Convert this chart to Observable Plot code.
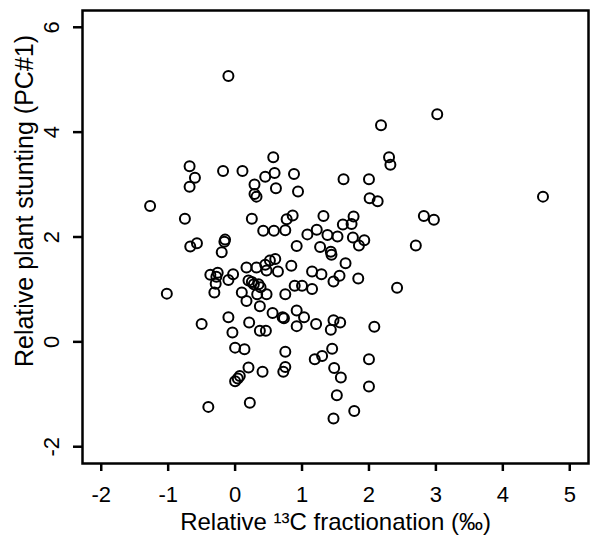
<!DOCTYPE html>
<html>
<head>
<meta charset="utf-8">
<script src="https://cdn.jsdelivr.net/npm/d3@7"></script>
<script src="https://cdn.jsdelivr.net/npm/@observablehq/plot@0.6"></script>
<style>
  html, body { margin: 0; padding: 0; background: white; }
</style>
</head>
<body>
<div id="chart"></div>
<script>
const xTicks = [-2, -1, 0, 1, 2, 3, 4, 5];
const yTicks = [-2, 0, 2, 4, 6];
const xLabel = "Relative \u00B9\u00B3C fractionation (\u2030)";
const yLabel = "Relative plant stunting (PC#1)";

// Relative 13C fractionation (x) for each plant
const fractionation = [
  -0.10, 0.57, -0.68, -0.60, -0.68, -0.18, 0.11, 0.45, 0.59, 0.88,
  0.29, 0.29, 0.32, 0.61, 0.94, -1.27, -0.75, 0.25, 0.42, 0.58,
  0.75, 0.77, 0.86, -0.67, -0.57, -0.15, -0.16, -0.20, 0.92,
  3.02, 2.18, 2.30, 2.32, 1.62, 2.00, 2.01, 2.13, 2.82, 2.97,
  1.32, 1.77, 1.74, 1.61, 1.22, 1.08, 1.38, 1.53, 1.76, 1.93,
  1.85, 1.27, 2.70, 1.43, 4.60,
  1.44, 1.65, 0.84, 1.15, 1.29, 1.56, 1.47, 1.84, 2.42, 0.89,
  1.00, 1.15, 0.92, 1.03, 0.92, 1.21, 1.47, 1.57, 1.43, 2.08,
  1.45, 1.30, 1.19, 2.00, 1.48, 1.58, 2.00, 1.52, 1.78, 1.47,
  -0.37, -0.26, -0.28, -0.29, -0.31, -0.10, -0.03, 0.17, 0.32, 0.45,
  0.52, 0.60, 0.47, 0.64, 0.20, 0.28, 0.35, 0.25, 0.38, 0.10,
  0.33, 0.47, 0.17, 0.75, -1.02, 0.37, 0.56, 0.71, 0.73, -0.10,
  -0.50, 0.21, -0.04, 0.37, 0.46, 0.00, 0.14, 0.75, 0.20, 0.07,
  0.00, 0.04, 0.41, 0.75, 0.72, -0.40, 0.22
];

// Relative plant stunting (PC#1) (y) for each plant
const stunting = [
  5.07, 3.52, 3.35, 3.13, 2.96, 3.26, 3.26, 3.15, 3.22, 3.20,
  3.00, 2.82, 2.77, 2.93, 2.87, 2.59, 2.35, 2.35, 2.12, 2.12,
  2.13, 2.34, 2.41, 1.82, 1.88, 1.95, 1.91, 1.71, 1.83,
  4.34, 4.13, 3.52, 3.38, 3.10, 3.10, 2.74, 2.68, 2.40, 2.33,
  2.40, 2.39, 2.25, 2.24, 2.14, 2.05, 2.04, 2.01, 1.99, 1.94,
  1.84, 1.81, 1.84, 1.72, 2.77,
  1.66, 1.50, 1.45, 1.34, 1.29, 1.26, 1.15, 1.21, 1.03, 1.07,
  1.07, 1.01, 0.60, 0.47, 0.30, 0.34, 0.41, 0.37, 0.23, 0.29,
  -0.13, -0.27, -0.33, -0.33, -0.50, -0.68, -0.85, -1.02, -1.32, -1.46,
  1.28, 1.32, 1.24, 1.11, 0.94, 1.18, 1.29, 1.42, 1.42, 1.47,
  1.55, 1.58, 1.36, 1.34, 1.17, 1.10, 1.10, 1.14, 1.04, 0.94,
  0.91, 0.91, 0.78, 0.91, 0.92, 0.68, 0.55, 0.47, 0.45, 0.47,
  0.34, 0.37, 0.18, 0.21, 0.21, -0.11, -0.14, -0.19, -0.49, -0.65,
  -0.75, -0.70, -0.57, -0.48, -0.57, -1.24, -1.16
];

const data = fractionation.map((x, i) => ({x, y: stunting[i]}));
const plainFormat = d => String(d);

const chart = Plot.plot({
  width: 593,
  height: 539,
  marginLeft: 82,
  marginRight: 5,
  marginTop: 10,
  marginBottom: 76,
  style: {
    fontFamily: "'Liberation Sans', Arial, Helvetica, sans-serif",
    fontSize: "22px",
    color: "black",
    background: "white",
    overflow: "visible"
  },
  x: {domain: [-2.28, 5.28]},
  y: {domain: [-2.32, 6.32]},
  marks: [
    Plot.axisX({
      ticks: xTicks, tickFormat: plainFormat, tickSize: 8, tickPadding: 15, strokeWidth: 2.5,
      fontSize: 22, label: xLabel, labelAnchor: "center", labelOffset: 66, labelArrow: "none"
    }),
    Plot.axisY({
      ticks: yTicks, tickFormat: plainFormat, tickSize: 9, tickPadding: 15, tickRotate: -90, strokeWidth: 2.5,
      fontSize: 22, label: null
    }),
    Plot.text([yLabel], {
      text: d => d, frameAnchor: "left", textAnchor: "middle", lineAnchor: "middle",
      dx: -58, dy: -36, rotate: -90, fontSize: 25, fill: "black"
    }),
    Plot.frame({stroke: "black", strokeWidth: 2.5}),
    Plot.dot(data, {x: "x", y: "y", r: 5, stroke: "black", strokeWidth: 2, fill: "none"})
  ]
});
// enlarge the x-axis title to match the reference
chart.querySelectorAll("g[aria-label='x-axis label'] text").forEach(t => t.setAttribute("font-size", "24"));
document.getElementById("chart").appendChild(chart);
</script>
</body>
</html>
